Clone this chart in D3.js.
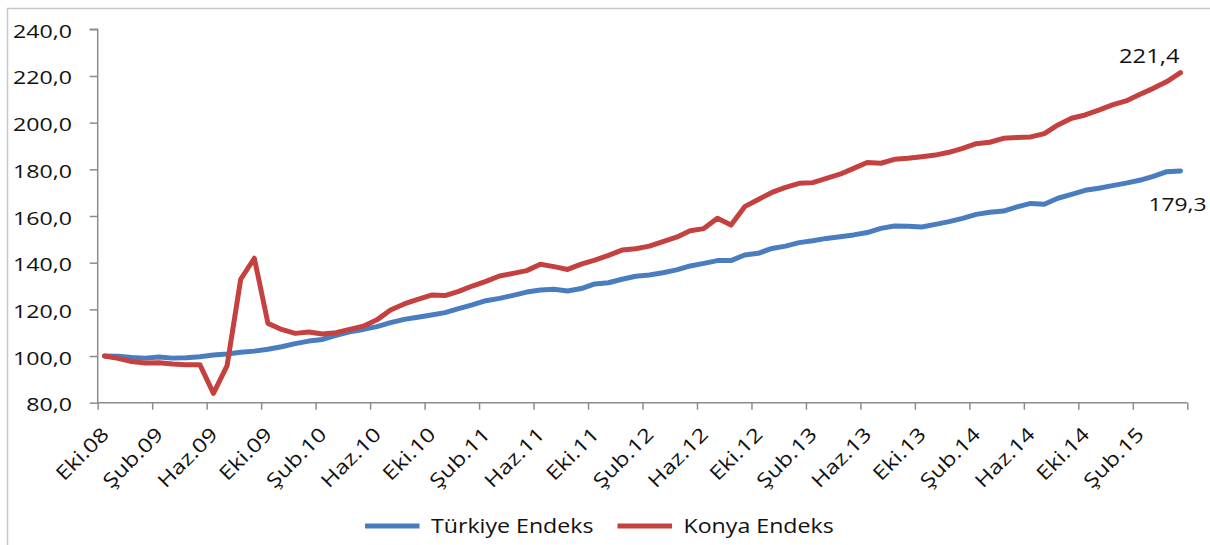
<!DOCTYPE html>
<html>
<head>
<meta charset="utf-8">
<script src="https://cdn.jsdelivr.net/npm/d3@7"></script>
<style>
  html, body { margin: 0; padding: 0; background: #ffffff; }
  svg { display: block; }
  text { font-family: "Open Sans", sans-serif; fill: #111111; }
</style>
</head>
<body>
<svg id="chart" width="1210" height="545"></svg>
<script>
const categories = [
  "Eki.08","Kas.08","Ara.08",
  "Oca.09","Şub.09","Mar.09","Nis.09","May.09","Haz.09","Tem.09","Ağu.09","Eyl.09","Eki.09","Kas.09","Ara.09",
  "Oca.10","Şub.10","Mar.10","Nis.10","May.10","Haz.10","Tem.10","Ağu.10","Eyl.10","Eki.10","Kas.10","Ara.10",
  "Oca.11","Şub.11","Mar.11","Nis.11","May.11","Haz.11","Tem.11","Ağu.11","Eyl.11","Eki.11","Kas.11","Ara.11",
  "Oca.12","Şub.12","Mar.12","Nis.12","May.12","Haz.12","Tem.12","Ağu.12","Eyl.12","Eki.12","Kas.12","Ara.12",
  "Oca.13","Şub.13","Mar.13","Nis.13","May.13","Haz.13","Tem.13","Ağu.13","Eyl.13","Eki.13","Kas.13","Ara.13",
  "Oca.14","Şub.14","Mar.14","Nis.14","May.14","Haz.14","Tem.14","Ağu.14","Eyl.14","Eki.14","Kas.14","Ara.14",
  "Oca.15","Şub.15","Mar.15","Nis.15","May.15"
];

const turkiyeEndeks = [
  100.0, 99.9, 99.4, 99.1, 99.6, 99.1, 99.3, 99.7, 100.4, 100.9,
  101.6, 102.1, 102.9, 104.0, 105.3, 106.4, 107.1, 108.9, 110.4, 111.4,
  112.6, 114.3, 115.7, 116.6, 117.6, 118.6, 120.3, 121.9, 123.7, 124.7,
  126.0, 127.4, 128.3, 128.6, 127.9, 128.9, 130.9, 131.4, 132.9, 134.2,
  134.7, 135.7, 136.9, 138.6, 139.7, 140.9, 140.9, 143.3, 144.0, 146.1,
  147.1, 148.6, 149.4, 150.4, 151.1, 151.9, 152.9, 154.7, 155.7, 155.6,
  155.3, 156.4, 157.6, 159.0, 160.7, 161.6, 162.1, 163.9, 165.4, 165.0,
  167.6, 169.3, 171.0, 171.9, 173.0, 174.1, 175.3, 177.0, 179.0, 179.3
];

const konyaEndeks = [
  100.0, 99.0, 97.6, 97.0, 97.1, 96.6, 96.3, 96.3, 84.0, 95.9,
  132.9, 141.9, 114.0, 111.4, 109.7, 110.3, 109.4, 110.0, 111.4, 112.8,
  115.5, 119.7, 122.3, 124.3, 126.1, 125.9, 127.7, 130.0, 132.0, 134.3,
  135.4, 136.6, 139.3, 138.3, 137.1, 139.4, 141.1, 143.1, 145.4, 146.0,
  147.1, 149.0, 150.9, 153.7, 154.6, 159.0, 156.1, 164.0, 167.1, 170.1,
  172.3, 174.0, 174.3, 176.1, 177.9, 180.4, 182.9, 182.6, 184.3, 184.7,
  185.4, 186.1, 187.3, 189.0, 191.0, 191.6, 193.3, 193.6, 193.9, 195.3,
  199.0, 201.9, 203.3, 205.4, 207.6, 209.3, 212.1, 214.7, 217.6, 221.4
];

const yTicks = [80, 100, 120, 140, 160, 180, 200, 220, 240];
const xTickLabels = ["Eki.08","Şub.09","Haz.09","Eki.09","Şub.10","Haz.10","Eki.10","Şub.11","Haz.11","Eki.11",
                     "Şub.12","Haz.12","Eki.12","Şub.13","Haz.13","Eki.13","Şub.14","Haz.14","Eki.14","Şub.15"];
const seriesNames = ["Türkiye Endeks", "Konya Endeks"];

const BLUE = "#4a7dc0";
const RED = "#c4413f";
const AXIS = "#8c8c8c";
const SX = 1.22;

const trLocale = d3.formatLocale({decimal: ",", thousands: ".", grouping: [3], currency: ["", " TL"]});
const fmt = trLocale.format(".1f");

const svg = d3.select("#chart");

// outer chart border
svg.append("rect")
  .attr("x", 7.5).attr("y", 8.5)
  .attr("width", 1260).attr("height", 600)
  .attr("fill", "none").attr("stroke", "#c8c8c8").attr("stroke-width", 1.5);

const plotLeft = 97.7, plotRight = 1187.3, plotTop = 29.3, plotBottom = 402.7;

const x = d3.scaleBand().domain(categories).range([plotLeft, plotRight]).padding(0);
const xIdx = d3.scaleLinear().domain([0, categories.length]).range([plotLeft, plotRight]);
const y = d3.scaleLinear().domain([80, 240]).range([plotBottom, plotTop]);
const cx = d => x(d) + x.bandwidth() / 2;

// Y axis
const yAxis = svg.append("g").attr("transform", `translate(${plotLeft},0)`)
  .call(d3.axisLeft(y).tickValues(yTicks).tickSize(8).tickFormat(""));
yAxis.selectAll("path, line").attr("stroke", AXIS).attr("stroke-width", 1.5);
yAxis.select(".domain").attr("d", `M-8,${y(240)}H0V${y(80)}`);

svg.append("g").selectAll("text").data(yTicks).join("text")
  .attr("transform", d => `translate(72,${y(d) + 8.5}) scale(${SX},1)`)
  .attr("text-anchor", "end")
  .attr("font-size", 19)
  .text(d => fmt(d));

// X axis
const tickIdx = d3.range(0, categories.length + 1, 4);
const xAxis = svg.append("g").attr("transform", `translate(0,${plotBottom})`)
  .call(d3.axisBottom(xIdx).tickValues(tickIdx).tickSize(7).tickFormat(""));
xAxis.selectAll("path, line").attr("stroke", AXIS).attr("stroke-width", 1.5);
xAxis.select(".domain").attr("d", `M${plotLeft},0H${plotRight}`);

svg.append("g").selectAll("text").data(xTickLabels).join("text")
  .attr("transform", d => `translate(${cx(d) + 5.5},${plotBottom + 33}) rotate(-45) scale(${SX},1)`)
  .attr("text-anchor", "end")
  .attr("font-size", 19.5)
  .text(d => d);

// Lines
const line = d3.line().x((d, i) => cx(categories[i])).y(d => y(d));
svg.append("path").datum(turkiyeEndeks)
  .attr("d", line).attr("fill", "none").attr("stroke", BLUE)
  .attr("stroke-width", 5).attr("stroke-linejoin", "round").attr("stroke-linecap", "round");
svg.append("path").datum(konyaEndeks)
  .attr("d", line).attr("fill", "none").attr("stroke", RED)
  .attr("stroke-width", 5).attr("stroke-linejoin", "round").attr("stroke-linecap", "round");

// Data labels for last points
const last = categories.length - 1;
svg.append("text")
  .attr("transform", `translate(${cx(categories[last]) - 1},${y(konyaEndeks[last]) - 9.5}) scale(${SX},1)`)
  .attr("text-anchor", "end").attr("font-size", 19.5)
  .text(fmt(konyaEndeks[last]));
svg.append("text")
  .attr("transform", `translate(${cx(categories[last]) - 32},${y(turkiyeEndeks[last]) + 40}) scale(1.2,1)`)
  .attr("text-anchor", "start").attr("font-size", 19)
  .text(fmt(turkiyeEndeks[last]));

// Legend
const legend = svg.append("g");
const legendItems = [
  {name: seriesNames[0], color: BLUE, x0: 365},
  {name: seriesNames[1], color: RED, x0: 617.5}
];
legendItems.forEach(it => {
  legend.append("line")
    .attr("x1", it.x0).attr("x2", it.x0 + 54.5)
    .attr("y1", 526).attr("y2", 526)
    .attr("stroke", it.color).attr("stroke-width", 5);
  legend.append("text")
    .attr("transform", `translate(${it.x0 + 66},533) scale(1.13,1)`)
    .attr("font-size", 20.5)
    .text(it.name);
});
</script>
</body>
</html>
